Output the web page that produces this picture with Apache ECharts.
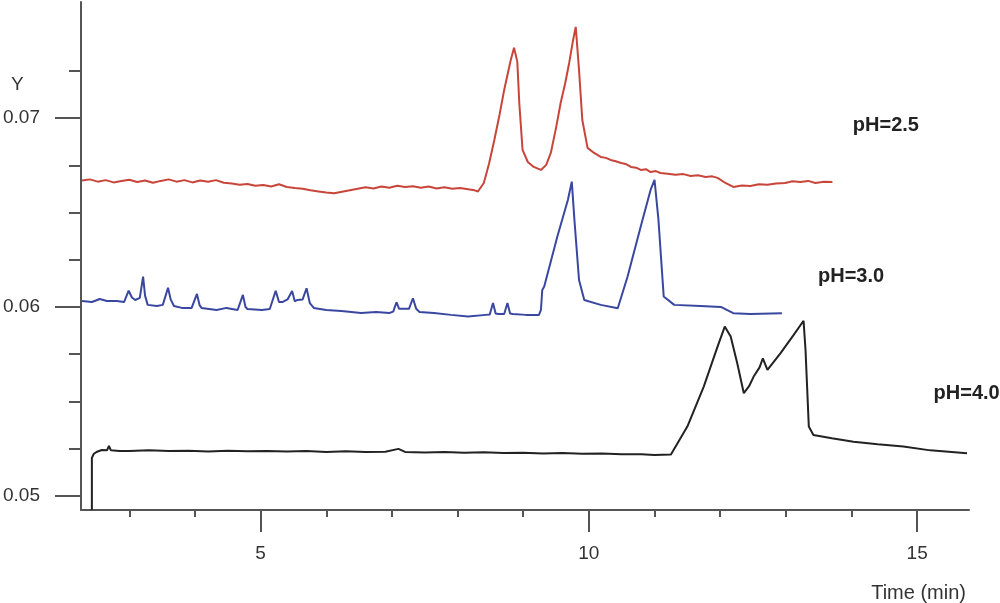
<!DOCTYPE html>
<html>
<head>
<meta charset="utf-8">
<script src="https://cdn.jsdelivr.net/npm/echarts@6/dist/echarts.min.js"></script>
<style>html,body{margin:0;padding:0;background:#fff}#c{width:1000px;height:603px}</style>
</head>
<body>
<div id="c"></div>
<script>
// ---- data (x: time in min, y: signal) ----
const xMajorTicks = [5, 10, 15];
const xMinorTicks = [3, 4, 6, 7, 8, 9, 11, 12, 13, 14];
const yMajorTicks = [0.05, 0.06, 0.07];
const yMinorTicks = [0.0525, 0.055, 0.0575, 0.0625, 0.065, 0.0675, 0.0725];

const ph25 = [
  [2.28,0.06670],[2.40,0.06676],[2.52,0.06664],[2.64,0.06672],[2.76,0.06660],[2.88,0.06668],[3.00,0.06674],
  [3.12,0.06662],[3.24,0.06670],[3.36,0.06658],[3.48,0.06668],[3.60,0.06676],[3.72,0.06664],[3.84,0.06672],
  [3.96,0.06660],[4.08,0.06670],[4.20,0.06664],[4.32,0.06672],[4.44,0.06658],[4.56,0.06654],[4.68,0.06648],
  [4.80,0.06652],[4.92,0.06642],[5.04,0.06646],[5.16,0.06638],[5.28,0.06650],[5.40,0.06636],[5.52,0.06630],
  [5.64,0.06626],[5.76,0.06618],[5.88,0.06612],[6.00,0.06606],[6.12,0.06602],[6.24,0.06610],[6.36,0.06618],
  [6.48,0.06626],[6.60,0.06634],[6.72,0.06628],[6.84,0.06638],[6.96,0.06632],[7.08,0.06642],[7.20,0.06636],
  [7.32,0.06640],[7.44,0.06632],[7.56,0.06638],[7.68,0.06628],[7.80,0.06634],[7.92,0.06626],[8.04,0.06630],
  [8.16,0.06624],[8.26,0.06618],[8.31,0.06612],
  [8.40,0.06657],[8.48,0.06760],[8.56,0.06885],[8.64,0.07020],[8.71,0.07150],[8.81,0.07309],[8.86,0.07373],
  [8.91,0.07300],[8.94,0.07081],[8.99,0.06832],[9.07,0.06768],[9.16,0.06742],[9.27,0.06726],[9.35,0.06753],
  [9.42,0.06816],[9.50,0.06949],[9.57,0.07081],[9.64,0.07187],[9.70,0.07293],[9.76,0.07415],[9.80,0.07484],
  [9.85,0.07256],[9.90,0.06991],[9.98,0.06843],[10.08,0.06816],[10.18,0.06795],[10.26,0.06790],[10.33,0.06779],
  [10.41,0.06772],[10.49,0.06763],[10.56,0.06758],[10.64,0.06742],[10.72,0.06738],[10.79,0.06726],[10.87,0.06730],
  [10.94,0.06715],[11.02,0.06720],[11.09,0.06710],[11.20,0.06706],[11.32,0.06700],[11.44,0.06704],[11.55,0.06694],
  [11.66,0.06698],[11.78,0.06689],[11.88,0.06692],[11.96,0.06684],[12.08,0.06657],[12.20,0.06636],[12.33,0.06644],
  [12.46,0.06641],[12.59,0.06650],[12.72,0.06647],[12.85,0.06654],[12.99,0.06657],[13.10,0.06666],[13.22,0.06662],
  [13.34,0.06668],[13.45,0.06657],[13.58,0.06664],[13.71,0.06662]
];

const ph30 = [
  [2.28,0.06032],[2.43,0.06026],[2.55,0.06042],[2.66,0.06032],[2.81,0.06032],[2.92,0.06026],[2.99,0.06086],
  [3.04,0.06050],[3.09,0.06037],[3.16,0.06048],[3.21,0.06161],[3.24,0.06060],[3.28,0.06011],[3.42,0.06005],
  [3.51,0.06011],[3.59,0.06102],[3.63,0.06040],[3.68,0.06005],[3.80,0.05995],[3.95,0.05995],[4.03,0.06069],
  [4.07,0.06010],[4.10,0.05995],[4.33,0.05984],[4.48,0.05995],[4.65,0.05984],[4.73,0.06064],[4.77,0.06000],
  [4.80,0.05989],[5.02,0.05984],[5.14,0.05989],[5.23,0.06086],[5.28,0.06026],[5.33,0.06026],[5.41,0.06040],
  [5.48,0.06085],[5.52,0.06030],[5.56,0.06037],[5.64,0.06040],[5.70,0.06099],[5.75,0.06020],[5.81,0.05995],
  [6.00,0.05984],[6.23,0.05979],[6.53,0.05968],[6.76,0.05973],[6.96,0.05968],[7.02,0.05975],[7.07,0.06025],
  [7.11,0.05990],[7.14,0.05995],[7.26,0.05990],[7.32,0.06046],[7.37,0.05990],[7.42,0.05973],[7.64,0.05968],
  [7.90,0.05958],[8.16,0.05949],[8.43,0.05958],[8.49,0.05960],[8.54,0.06021],[8.58,0.05965],[8.62,0.05963],
  [8.71,0.05963],[8.76,0.06021],[8.80,0.05965],[8.84,0.05963],[9.04,0.05958],[9.24,0.05958],[9.27,0.05984],
  [9.29,0.06090],[9.32,0.06108],[9.52,0.06373],[9.68,0.06567],[9.74,0.06664],[9.78,0.06461],[9.85,0.06143],
  [9.93,0.06037],[10.18,0.06011],[10.44,0.05993],[10.59,0.06161],[10.79,0.06426],[10.94,0.06620],[11.00,0.06673],
  [11.06,0.06461],[11.14,0.06055],[11.30,0.06011],[11.70,0.06005],[12.01,0.06000],[12.20,0.05967],[12.46,0.05963],
  [12.94,0.05967]
];

const ph40 = [
  [2.43,0.04924],[2.43,0.05200],[2.46,0.05222],[2.51,0.05233],[2.58,0.05242],[2.66,0.05240],[2.69,0.05263],
  [2.72,0.05240],[2.85,0.05237],[3.0,0.05236],[3.3,0.05240],[3.6,0.05236],[3.9,0.05238],[4.2,0.05234],
  [4.5,0.05238],[4.8,0.05235],[5.1,0.05237],[5.4,0.05234],[5.7,0.05236],[6.0,0.05232],[6.3,0.05235],
  [6.6,0.05231],[6.9,0.05233],[7.1,0.05248],[7.2,0.05232],[7.5,0.05229],[7.8,0.05232],[8.1,0.05228],
  [8.4,0.05230],[8.7,0.05226],[9.0,0.05228],[9.3,0.05224],[9.6,0.05226],[9.9,0.05222],[10.2,0.05224],
  [10.5,0.05220],[10.8,0.05220],[11.0,0.05216],[11.25,0.05218],
  [11.50,0.05366],[11.75,0.05578],[11.96,0.05790],[12.07,0.05896],[12.16,0.05843],[12.26,0.05702],
  [12.36,0.05543],[12.44,0.05580],[12.51,0.05631],[12.60,0.05680],[12.65,0.05728],[12.72,0.05666],
  [12.92,0.05755],[13.12,0.05852],[13.27,0.05927],[13.30,0.05772],[13.35,0.05366],[13.42,0.05322],
  [13.70,0.05304],[14.03,0.05286],[14.40,0.05272],[14.79,0.05260],[15.20,0.05240],[15.76,0.05225]
];

const labels = [
  {text: 'pH=2.5', coord: [14.02, 0.06959]},
  {text: 'pH=3.0', coord: [13.49, 0.06161]},
  {text: 'pH=4.0', coord: [15.25, 0.05542]}
];

const X_MIN = 2.264, X_MAX = 15.79;
const Y_MIN = 0.04924, Y_MAX = 0.07616;

const axisColor = '#555';
const font = 'Liberation Sans, Arial, sans-serif';

const chart = echarts.init(document.getElementById('c'));

function mkSeries(name, data, color, lab) {
  return {
    name, type: 'line', data, xAxisIndex: 0, yAxisIndex: 0,
    showSymbol: false, symbol: 'none', clip: true,
    lineStyle: {color, width: 2},
    markPoint: {
      symbol: 'circle', symbolSize: 0, silent: true,
      data: [{coord: lab.coord, value: lab.text}],
      label: {show: true, position: 'right', distance: 0, formatter: lab.text,
        color: '#222', fontFamily: font, fontWeight: 'bold', fontSize: 20}
    }
  };
}

chart.setOption({
  animation: false,
  grid: {left: 79, right: 31, top: 2, bottom: 93},
  xAxis: [
    {type: 'value', min: X_MIN, max: X_MAX, position: 'bottom',
      axisLine: {show: true, lineStyle: {color: axisColor, width: 2}},
      axisTick: {show: true, customValues: xMajorTicks, length: 22, lineStyle: {color: axisColor, width: 2}},
      axisLabel: {show: true, customValues: xMajorTicks, margin: 34, color: '#333', fontSize: 19, fontFamily: font},
      splitLine: {show: false}},
    {type: 'value', min: X_MIN, max: X_MAX, position: 'bottom', offset: 0,
      axisLine: {show: false},
      axisTick: {show: true, customValues: xMinorTicks, length: 7, lineStyle: {color: axisColor, width: 2}},
      axisLabel: {show: false}, splitLine: {show: false}}
  ],
  yAxis: [
    {type: 'value', min: Y_MIN, max: Y_MAX, position: 'left',
      axisLine: {show: true, lineStyle: {color: axisColor, width: 2}},
      axisTick: {show: true, customValues: yMajorTicks, length: 26, lineStyle: {color: axisColor, width: 2}},
      axisLabel: {show: true, customValues: yMajorTicks, margin: 41, color: '#333', fontSize: 19, fontFamily: font,
        formatter: v => v.toFixed(2)},
      splitLine: {show: false}},
    {type: 'value', min: Y_MIN, max: Y_MAX, position: 'left', offset: 0,
      axisLine: {show: false},
      axisTick: {show: true, customValues: yMinorTicks, length: 12, lineStyle: {color: axisColor, width: 2}},
      axisLabel: {show: false}, splitLine: {show: false}}
  ],
  graphic: [
    {type: 'text', left: 11, top: 75, style: {text: 'Y', fontSize: 19, fontFamily: font, fill: '#333'}},
    {type: 'text', right: 34, top: 583, style: {text: 'Time (min)', fontSize: 20, fontFamily: font, fill: '#333'}}
  ],
  series: [
    mkSeries('pH=2.5', ph25, '#c8453a', labels[0]),
    mkSeries('pH=3.0', ph30, '#3a47a0', labels[1]),
    mkSeries('pH=4.0', ph40, '#222222', labels[2])
  ]
});
</script>
</body>
</html>
